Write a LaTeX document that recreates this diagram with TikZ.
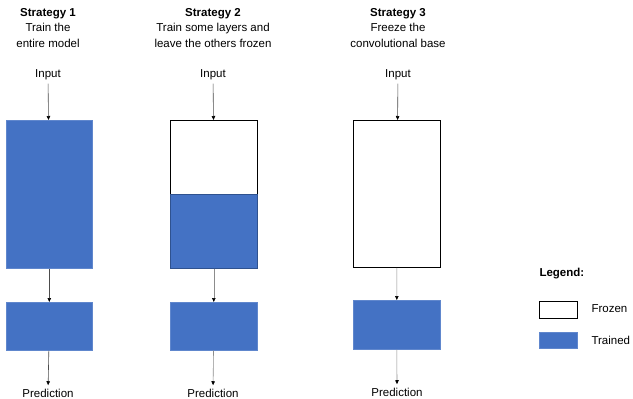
\documentclass[tikz,border=0pt]{standalone}
\usepackage{fontspec}
\setmainfont{Liberation Sans}
\usetikzlibrary{arrows.meta}
\definecolor{trainblue}{HTML}{4472C4}
\definecolor{edgeblue}{HTML}{2F528F}

\begin{document}
\begin{tikzpicture}[x=1pt,y=-1pt,
    every node/.style={font=\fontsize{11.5}{13}\selectfont},
    title/.style={align=center,font=\fontsize{11.5}{15.5}\selectfont},
    frozen/.style={draw=black,fill=white,line width=0.8pt,anchor=north west,inner sep=0pt},
    trained/.style={draw=trainblue!85!white,fill=trainblue,line width=0.6pt,anchor=north west,inner sep=0pt},
    flow/.style={-{Triangle[length=4pt,width=3.5pt,color=black]},draw=black!70,line width=0.6pt}]
        \useasboundingbox (0,0) rectangle (633,399);
        % strategy 1
        \node[title] (tone) at (48,28) {\textbf{Strategy 1}\\Train the\\entire model};
        \node (inone) at (48,75) {Input};
        \node[trained,minimum width=86pt,minimum height=148pt] (baseone) at (6,120) {};
        \node[trained,minimum width=86pt,minimum height=48pt] (headone) at (6,302) {};
        \node (predone) at (48,393) {Prediction};
        \draw[flow] (inone) -- (baseone);
        \draw[flow] (baseone) -- (headone);
        \draw[flow] (headone) -- (predone);
        % strategy 2
        \node[title] (ttwo) at (213,28) {\textbf{Strategy 2}\\Train some layers and\\leave the others frozen};
        \node (intwo) at (213,75) {Input};
        \node[frozen,minimum width=87pt,minimum height=74pt] (lowtwo) at (170,120) {};
        \node[trained,draw=edgeblue,minimum width=87pt,minimum height=74pt] (hightwo) at (170,194) {};
        \node[trained,minimum width=87pt,minimum height=48pt] (headtwo) at (170,302) {};
        \node (predtwo) at (213,393) {Prediction};
        \draw[flow] (intwo) -- (lowtwo);
        \draw[flow,draw=black!45] (hightwo) -- (headtwo);
        \draw[flow,draw=black!45] (headtwo) -- (predtwo);
        % strategy 3
        \node[title] (tthree) at (398,28) {\textbf{Strategy 3}\\Freeze the\\convolutional base};
        \node (inthree) at (398,75) {Input};
        \node[frozen,minimum width=87pt,minimum height=147pt] (basethree) at (353,120) {};
        \node[trained,minimum width=87pt,minimum height=49pt] (headthree) at (353,300) {};
        \node (predthree) at (397,392) {Prediction};
        \draw[flow] (inthree) -- (basethree);
        \draw[flow,draw=black!45] (basethree) -- (headthree);
        \draw[flow,draw=black!45] (headthree) -- (predthree);
        % legend
        \node[anchor=west] (legend) at (536,274) {\textbf{Legend:}};
        \node[frozen,minimum width=38pt,minimum height=17pt] (keyfrozen) at (539,301) {};
        \node[trained,minimum width=38pt,minimum height=16pt] (keytrained) at (539,332) {};
        \node[anchor=west] (txtfrozen) at (588,309) {Frozen};
        \node[anchor=west] (txttrained) at (588,340) {Trained};
\end{tikzpicture}
\end{document}
